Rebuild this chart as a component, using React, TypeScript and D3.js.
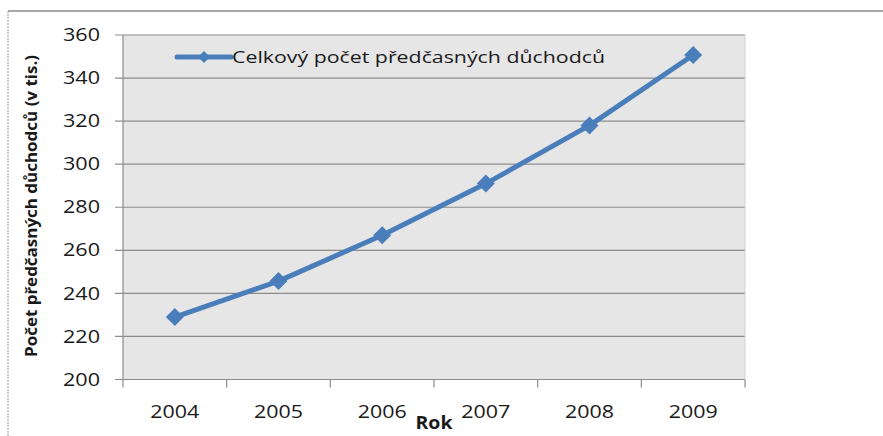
import React from "react";
import * as d3 from "d3";

const years = ["2004", "2005", "2006", "2007", "2008", "2009"];
const values = [229, 245.7, 267, 291, 318, 350.7];
const yTicks = [200, 220, 240, 260, 280, 300, 320, 340, 360];
const seriesName = "Celkový počet předčasných důchodců";
const yTitle = "Počet předčasných důchodců (v tis.)";
const xTitle = "Rok";

export default function App() {
  const W = 883, H = 436;
  const left = 123, right = 745, top = 35, bottom = 379.5;
  const x = d3.scaleBand<string>().domain(years).range([left, right]);
  const y = d3.scaleLinear().domain([200, 360]).range([bottom, top]);
  const color = "#4a7ebb";
  const line = d3.line<number>()
    .x((_, i) => (x(years[i]) as number) + x.bandwidth() / 2)
    .y((d) => y(d));
  const diamond = (cx: number, cy: number, r: number) =>
    `M${cx},${cy - r}L${cx + r},${cy}L${cx},${cy + r}L${cx - r},${cy}Z`;
  const font = "Open Sans, Liberation Sans, sans-serif";
  const xTickPos = [...years.map((yr) => x(yr) as number), right];
  return (
    <svg width={W} height={H} style={{ position: "absolute", left: 0, top: 0, background: "#fff" }}>
      <rect x={0} y={0} width={W} height={H} fill="#fff" />
      <line x1={8} x2={W} y1={11} y2={11} stroke="#8a8a8a" strokeWidth={1.5} />
      <line x1={8} x2={8} y1={11} y2={H} stroke="#9a9a9a" strokeWidth={1} strokeDasharray="2,1" />
      <rect x={left} y={top} width={right - left} height={bottom - top} fill="#e6e6e6" />
      {yTicks.map((t) => (
        <g key={t}>
          <line x1={left - 8} x2={right} y1={y(t)} y2={y(t)} stroke="#8c8c8c" strokeWidth={1.2} />
          <text x={100} y={y(t)} dy="0.35em" textAnchor="end" fontFamily={font} fontSize={17.5} fill="#1a1a1a" textLength={37} lengthAdjust="spacingAndGlyphs">{t}</text>
        </g>
      ))}
      <line x1={left} x2={left} y1={top} y2={bottom} stroke="#8c8c8c" strokeWidth={1.2} />
      <line x1={right} x2={right} y1={top} y2={bottom} stroke="#d0d0d0" strokeWidth={1} />
      {xTickPos.map((p, i) => (
        <line key={i} x1={p} x2={p} y1={bottom} y2={bottom + 8} stroke="#8c8c8c" strokeWidth={1.2} />
      ))}
      {years.map((yr) => (
        <text key={yr} x={(x(yr) as number) + x.bandwidth() / 2} y={418} textAnchor="middle" fontFamily={font} fontSize={17.5} fill="#1a1a1a" textLength={49} lengthAdjust="spacingAndGlyphs">{yr}</text>
      ))}
      <path d={line(values) || ""} fill="none" stroke={color} strokeWidth={5} strokeLinejoin="round" />
      {values.map((v, i) => (
        <path key={i} d={diamond((x(years[i]) as number) + x.bandwidth() / 2, y(v), 9)} fill={color} />
      ))}
      <line x1={177} x2={231} y1={57} y2={57} stroke={color} strokeWidth={5} strokeLinecap="round" />
      <path d={diamond(204, 57, 6)} fill={color} />
      <text x={232} y={57} dy="0.35em" fontFamily={font} fontSize={17} fill="#1a1a1a" textLength={373} lengthAdjust="spacingAndGlyphs">{seriesName}</text>
      <text transform={`translate(37,206) rotate(-90)`} textAnchor="middle" fontFamily={font} fontWeight="bold" fontSize={16} fill="#1a1a1a" textLength={302} lengthAdjust="spacingAndGlyphs">{yTitle}</text>
      <text x={434} y={429} textAnchor="middle" fontFamily={font} fontWeight="bold" fontSize={17} fill="#1a1a1a" textLength={37} lengthAdjust="spacingAndGlyphs">{xTitle}</text>
    </svg>
  );
}
